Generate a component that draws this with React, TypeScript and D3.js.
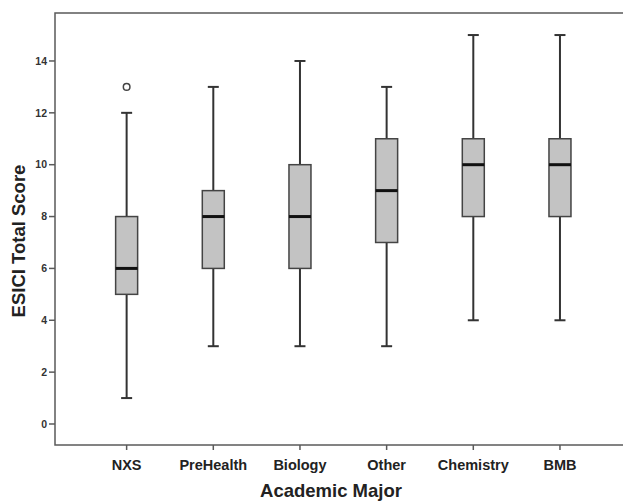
import React from "react";
import * as d3 from "d3";

const categories = ["NXS", "PreHealth", "Biology", "Other", "Chemistry", "BMB"];
const whiskerLow = [1, 3, 3, 3, 4, 4];
const q1 = [5, 6, 6, 7, 8, 8];
const medians = [6, 8, 8, 9, 10, 10];
const q3 = [8, 9, 10, 11, 11, 11];
const whiskerHigh = [12, 13, 14, 13, 15, 15];
const outliers = [{ cat: "NXS", value: 13 }];
const yTicks = [0, 2, 4, 6, 8, 10, 12, 14];

const W = 623;
const H = 502;
const left = 55;
const right = 632;
const top = 13;
const bottom = 445;

export default function App() {
  const y = d3.scaleLinear().domain([-0.81, 15.85]).range([bottom, top]);
  const x = d3
    .scaleBand<string>()
    .domain(categories)
    .range([83.3, 603.3])
    .paddingInner(0)
    .paddingOuter(0);
  const cx = (c: string) => (x(c) as number) + x.bandwidth() / 2;
  const boxW = 22;
  const capW = 11;
  const font = "'Liberation Sans', Arial, sans-serif";
  const frame = "#5a5a5a";
  const dark = "#333";

  return (
    <svg
      width={W}
      height={H}
      style={{ position: "absolute", left: 0, top: 0, background: "#fff" }}
      fontFamily={font}
    >
      <rect x={0} y={0} width={W} height={H} fill="#fff" />
      <rect
        x={left}
        y={top}
        width={right - left}
        height={bottom - top}
        fill="none"
        stroke={frame}
        strokeWidth={1.5}
      />
      {yTicks.map((t) => (
        <g key={t}>
          <line x1={left - 6} x2={left} y1={y(t)} y2={y(t)} stroke={frame} strokeWidth={1.5} />
          <text
            x={left - 8}
            y={y(t)}
            dy="0.35em"
            textAnchor="end"
            fontSize={10.5}
            fontWeight="bold"
            fill="#333"
          >
            {t}
          </text>
        </g>
      ))}
      {categories.map((c) => (
        <g key={c}>
          <line x1={cx(c)} x2={cx(c)} y1={bottom} y2={bottom + 5} stroke={frame} strokeWidth={1.5} />
          <text
            x={cx(c)}
            y={bottom + 25}
            textAnchor="middle"
            fontSize={14.5}
            fontWeight="bold"
            fill="#222"
          >
            {c}
          </text>
        </g>
      ))}
      {categories.map((c, i) => {
        const m = cx(c);
        return (
          <g key={c}>
            <line x1={m} x2={m} y1={y(whiskerHigh[i])} y2={y(q3[i])} stroke={dark} strokeWidth={2} />
            <line x1={m} x2={m} y1={y(q1[i])} y2={y(whiskerLow[i])} stroke={dark} strokeWidth={2} />
            <line
              x1={m - capW / 2}
              x2={m + capW / 2}
              y1={y(whiskerHigh[i])}
              y2={y(whiskerHigh[i])}
              stroke={dark}
              strokeWidth={2}
            />
            <line
              x1={m - capW / 2}
              x2={m + capW / 2}
              y1={y(whiskerLow[i])}
              y2={y(whiskerLow[i])}
              stroke={dark}
              strokeWidth={2}
            />
            <rect
              x={m - boxW / 2}
              y={y(q3[i])}
              width={boxW}
              height={y(q1[i]) - y(q3[i])}
              fill="#c3c3c3"
              stroke="#444"
              strokeWidth={1.5}
            />
            <line
              x1={m - boxW / 2}
              x2={m + boxW / 2}
              y1={y(medians[i])}
              y2={y(medians[i])}
              stroke="#111"
              strokeWidth={3}
            />
          </g>
        );
      })}
      {outliers.map((o, k) => (
        <circle key={k} cx={cx(o.cat)} cy={y(o.value)} r={3.3} fill="#fff" stroke="#444" strokeWidth={1.5} />
      ))}
      <text
        x={331}
        y={497}
        textAnchor="middle"
        fontSize={18.5}
        fontWeight="bold"
        fill="#222"
      >
        Academic Major
      </text>
      <text
        transform={`translate(25,241) rotate(-90)`}
        textAnchor="middle"
        fontSize={18.5}
        fontWeight="bold"
        fill="#222"
      >
        ESICI Total Score
      </text>
    </svg>
  );
}
